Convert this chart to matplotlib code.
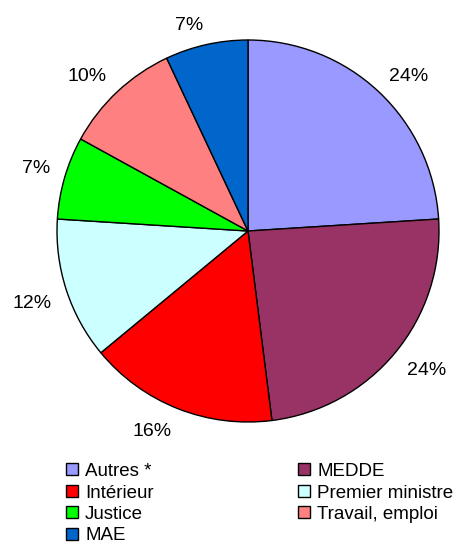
import numpy as np
import matplotlib
matplotlib.use("Agg")
import matplotlib.pyplot as plt
from matplotlib.patches import Patch

plt.rcParams['font.family'] = ['Liberation Sans', 'DejaVu Sans']

# Données
labels = ['Autres *', 'MEDDE', 'Intérieur', 'Premier ministre', 'Justice', 'Travail, emploi', 'MAE']
values = [24, 24, 16, 12, 7, 10, 7]
colors = ['#9999FF', '#993366', '#FF0000', '#CCFFFF', '#00FF00', '#FF8080', '#0066CC']

fig = plt.figure(figsize=(4.57, 5.45), dpi=100)

# Camembert : centre (248, 231) px, rayon 191 px
cx, cy, r = 248, 231, 191
W, H = 457, 545
ax = fig.add_axes([(cx - r) / W, (H - cy - r) / H, 2 * r / W, 2 * r / H])
wedges, texts, autotexts = ax.pie(
    values, colors=colors, startangle=90, counterclock=False,
    autopct='%d%%', pctdistance=1.15,
    wedgeprops=dict(edgecolor='black', linewidth=1),
    textprops=dict(fontsize=14, color='black'),
)
ax.set_xlim(-1, 1)
ax.set_ylim(-1, 1)
ax.set_aspect('equal')

# Étiquettes placées à l'extérieur, le coin le plus proche du camembert sur le rayon médian
for w, t in zip(wedges, autotexts):
    ang = np.deg2rad((w.theta1 + w.theta2) / 2)
    c, s = np.cos(ang), np.sin(ang)
    t.set_position((1.08 * c, 1.08 * s))
    t.set_ha('left' if c > 0 else 'right')
    t.set_va('baseline' if s > 0 else 'top')

# Légende : ordre ligne par ligne dans l'image -> ordre colonne par colonne ici
order = [0, 2, 4, 6, 1, 3, 5]
handles = [Patch(facecolor=colors[i], edgecolor='black', linewidth=1) for i in order]
fig.legend(handles, [labels[i] for i in order], ncol=2,
           loc='upper left', bbox_to_anchor=(66 / W, 1 - 463 / H),
           frameon=False, fontsize=13.5, handlelength=0.62, handleheight=0.62,
           handletextpad=0.4, labelspacing=0.24, columnspacing=7.7,
           borderpad=0, borderaxespad=0)

fig.savefig('out.png', dpi=100)
